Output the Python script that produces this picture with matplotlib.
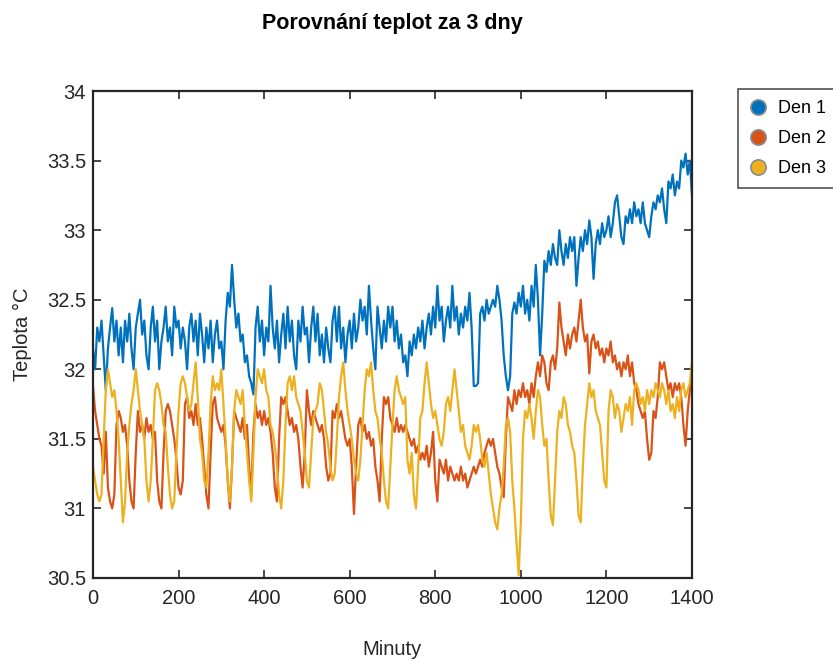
# Porovnani teplot za 3 dny (krok 5 minut)

import numpy as np
import matplotlib.pyplot as plt
from matplotlib.ticker import FuncFormatter
from matplotlib.lines import Line2D

plt.rcParams["font.family"] = ["Liberation Sans", "DejaVu Sans"]

minutes = np.arange(0, 1401, 5)

den1 = [
    32.15, 32.0, 32.3, 32.2, 32.35, 32.1, 31.85, 32.15, 32.3, 32.44, 32.2, 32.35, 32.1, 32.3, 32.05, 32.35, 32.2, 32.4, 32.15, 32.0,
    32.3, 32.4, 32.5, 32.25, 32.35, 32.1, 32.0, 32.3, 32.45, 32.2, 32.35, 32.0, 32.2, 32.3, 32.45, 32.2, 32.3, 32.1, 32.45, 32.3,
    32.35, 32.15, 32.3, 32.2, 32.0, 32.3, 32.4, 32.2, 32.35, 32.1, 32.4, 32.25, 32.05, 32.3, 32.15, 32.35, 32.05, 32.25, 32.35, 32.15,
    32.2, 32.0, 32.35, 32.55, 32.45, 32.75, 32.5, 32.3, 32.4, 32.2, 32.25, 32.05, 32.1, 31.95, 31.9, 31.82, 32.3, 32.45, 32.2, 32.35,
    32.1, 32.3, 32.2, 32.6, 32.3, 32.15, 32.35, 32.05, 32.25, 32.4, 32.15, 32.45, 32.2, 32.35, 32.1, 32.0, 32.35, 32.2, 32.45, 32.25,
    32.3, 32.05, 32.3, 32.45, 32.2, 32.4, 32.1, 32.25, 32.05, 32.3, 32.15, 32.05, 32.35, 32.45, 32.2, 32.45, 32.15, 32.3, 32.05, 32.25,
    32.35, 32.15, 32.4, 32.2, 32.3, 32.5, 32.35, 32.45, 32.25, 32.6, 32.35, 32.15, 32.0, 32.45, 32.3, 32.15, 32.35, 32.2, 32.45, 32.3,
    32.45, 32.2, 32.35, 32.15, 32.25, 32.05, 32.1, 31.95, 32.2, 32.1, 32.25, 32.15, 32.3, 32.2, 32.35, 32.15, 32.3, 32.4, 32.25, 32.45,
    32.3, 32.6, 32.35, 32.45, 32.2, 32.35, 32.45, 32.3, 32.6, 32.35, 32.45, 32.25, 32.4, 32.3, 32.45, 32.35, 32.55, 32.3, 31.88, 31.88,
    31.9, 32.4, 32.45, 32.35, 32.5, 32.4, 32.45, 32.5, 32.45, 32.6, 32.5, 32.35, 32.1, 31.95, 31.85, 31.95, 32.4, 32.48, 32.4, 32.55,
    32.45, 32.6, 32.4, 32.5, 32.35, 32.6, 32.45, 32.75, 32.5, 32.1, 32.4, 32.78, 32.7, 32.85, 32.75, 32.9, 32.8, 32.75, 33.0, 32.85,
    32.75, 32.9, 32.8, 32.95, 32.85, 32.95, 32.6, 32.8, 32.95, 32.85, 33.0, 32.9, 33.07, 32.95, 32.65, 32.9, 33.0, 32.9, 33.05, 32.95,
    33.0, 33.1, 32.95, 33.05, 33.2, 33.25, 33.1, 32.95, 32.9, 33.1, 33.05, 33.15, 33.05, 33.2, 33.1, 33.15, 33.05, 33.2, 33.05, 33.0,
    32.95, 33.1, 33.2, 33.15, 33.25, 33.2, 33.3, 33.15, 33.05, 33.35, 33.3, 33.4, 33.25, 33.35, 33.3, 33.5, 33.45, 33.55, 33.4, 33.5,
    33.25,
]

den2 = [
    31.88, 31.7, 31.6, 31.5, 31.45, 31.25, 31.55, 31.15, 31.05, 31.0, 31.1, 31.6, 31.7, 31.65, 31.55, 31.6, 31.45, 31.2, 31.05, 31.0,
    31.4, 31.7, 31.55, 31.6, 31.5, 31.65, 31.55, 31.6, 31.5, 31.55, 31.2, 31.05, 31.0, 31.4, 31.7, 31.75, 31.7, 31.6, 31.5, 31.35,
    31.15, 31.1, 31.2, 31.75, 31.8, 31.65, 31.7, 31.6, 31.75, 31.6, 31.65, 31.5, 31.3, 31.1, 31.0, 31.4, 31.75, 31.8, 31.65, 31.6,
    31.55, 31.6, 31.45, 31.2, 31.0, 31.3, 31.7, 31.65, 31.6, 31.55, 31.65, 31.5, 31.6, 31.3, 31.1, 31.55, 31.75, 31.65, 31.7, 31.6,
    31.7, 31.6, 31.65, 31.55, 31.4, 31.15, 31.05, 31.5, 31.8, 31.75, 31.8, 31.7, 31.6, 31.65, 31.55, 31.6, 31.5, 31.3, 31.15, 31.4,
    31.85, 31.7, 31.6, 31.7, 31.65, 31.6, 31.55, 31.6, 31.5, 31.3, 31.2, 31.25, 31.7, 31.65, 31.75, 31.65, 31.7, 31.6, 31.5, 31.45,
    31.5, 31.3, 30.96, 31.3, 31.6, 31.65, 31.55, 31.6, 31.5, 31.55, 31.45, 31.5, 31.3, 31.2, 31.05, 31.5, 31.8, 31.75, 31.8, 31.65,
    31.6, 31.55, 31.65, 31.55, 31.6, 31.55, 31.6, 31.55, 31.5, 31.45, 31.5, 31.4, 31.45, 31.35, 31.4, 31.35, 31.45, 31.3, 31.4, 31.55,
    31.2, 31.05, 31.35, 31.3, 31.25, 31.35, 31.2, 31.3, 31.25, 31.2, 31.25, 31.2, 31.3, 31.2, 31.25, 31.15, 31.2, 31.25, 31.3, 31.25,
    31.3, 31.35, 31.3, 31.4, 31.45, 31.5, 31.45, 31.5, 31.4, 31.3, 31.25, 31.15, 31.08, 31.5, 31.8, 31.75, 31.7, 31.85, 31.75, 31.85,
    31.8, 31.9, 31.8, 31.85, 31.75, 31.9, 31.8, 31.95, 32.05, 31.95, 32.1, 32.05, 31.9, 31.85, 32.05, 32.1, 32.0, 32.15, 32.48, 32.3,
    32.2, 32.1, 32.25, 32.15, 32.25, 32.3, 32.2, 32.35, 32.5, 32.3, 32.2, 32.25, 31.97, 32.2, 32.25, 32.15, 32.2, 32.1, 32.15, 32.05,
    32.15, 32.1, 32.2, 32.05, 32.1, 32.0, 32.05, 31.95, 32.05, 32.0, 32.1, 31.95, 32.05, 31.9, 31.85, 31.75, 31.7, 31.65, 31.7, 31.5,
    31.35, 31.4, 31.7, 31.65, 31.8, 32.05, 32.0, 32.05, 31.95, 31.85, 31.9, 31.8, 31.9, 31.85, 31.9, 31.8, 31.6, 31.45, 31.7, 31.85,
    32.0,
]

den3 = [
    31.3, 31.2, 31.1, 31.05, 31.1, 31.5, 31.85, 32.0, 31.9, 31.8, 31.85, 31.7, 31.5, 31.2, 30.9, 31.05, 31.4, 31.6, 31.75, 31.85,
    32.0, 31.85, 31.7, 31.6, 31.5, 31.2, 31.05, 31.2, 31.5, 31.85, 31.9, 31.85, 31.75, 31.6, 31.55, 31.3, 31.1, 31.0, 31.05, 31.4,
    31.7, 31.9, 31.95, 31.9, 31.8, 31.7, 31.75, 31.9, 32.05, 31.8, 31.5, 31.4, 31.2, 31.15, 31.4, 31.75, 31.95, 31.85, 31.9, 31.85,
    32.0, 31.75, 31.5, 31.2, 31.05, 31.3, 31.7, 31.85, 31.8, 31.75, 31.85, 31.6, 31.4, 31.2, 31.05, 31.4, 31.8, 32.0, 31.95, 31.9,
    32.0, 31.85, 31.8, 31.6, 31.55, 31.45, 31.3, 31.1, 31.0, 31.2, 31.6, 31.9, 31.95, 31.85, 31.95, 31.8, 31.75, 31.7, 31.55, 31.4,
    31.2, 31.15, 31.4, 31.65, 31.7, 31.75, 31.9, 31.85, 31.7, 31.55, 31.45, 31.3, 31.2, 31.25, 31.5, 31.8, 31.95, 32.05, 31.85, 31.7,
    31.6, 31.5, 31.35, 31.25, 31.2, 31.35, 31.6, 31.85, 32.0, 31.95, 32.05, 31.85, 31.7, 31.65, 31.5, 31.4, 31.2, 31.05, 31.0, 31.3,
    31.6, 31.85, 31.95, 31.85, 31.8, 31.75, 31.8, 31.35, 31.25, 31.4, 31.1, 31.0, 31.3, 31.65, 31.7, 31.9, 32.05, 31.9, 31.75, 31.65,
    31.7, 31.6, 31.5, 31.45, 31.55, 31.75, 31.8, 31.7, 31.85, 32.0, 31.85, 31.7, 31.55, 31.6, 31.45, 31.4, 31.35, 31.45, 31.6, 31.55,
    31.6, 31.5, 31.35, 31.3, 31.4, 31.25, 31.1, 31.0, 30.9, 30.85, 31.0, 31.1, 31.3, 31.6, 31.65, 31.55, 31.2, 31.0, 30.75, 30.52,
    30.9, 31.5, 31.7, 31.65, 31.75, 31.65, 31.5, 31.7, 31.85, 31.8, 31.6, 31.45, 31.5, 31.2, 30.95, 30.88, 31.2, 31.55, 31.7, 31.65,
    31.8, 31.75, 31.6, 31.55, 31.45, 31.4, 31.2, 30.95, 30.9, 31.3, 31.6, 31.75, 31.9, 31.8, 31.85, 31.7, 31.65, 31.6, 31.4, 31.2,
    31.15, 31.7, 31.85, 31.8, 31.65, 31.75, 31.7, 31.55, 31.65, 31.75, 31.7, 31.8, 31.6, 31.85, 31.9, 31.85, 31.75, 31.8, 31.7, 31.85,
    31.75, 31.85, 31.8, 31.9, 31.85, 31.8, 31.9, 31.85, 31.75, 31.85, 31.7, 31.75, 31.65, 31.8, 31.7, 31.85, 31.9, 31.8, 31.85, 31.9,
    32.05,
]

series_names = ["Den 1", "Den 2", "Den 3"]
colors = ["#0072BD", "#D95319", "#EDB120"]

fig = plt.figure(figsize=(8.33, 6.62), dpi=100)
ax = fig.add_axes([0.1116, 0.1269, 0.7191, 0.7356])

for vals, name, col in zip([den1, den2, den3], series_names, colors):
    ax.plot(minutes, vals, color=col, linewidth=1.6, label=name)

ax.set_xlim(0, 1400)
ax.set_ylim(30.5, 34)
ax.set_xticks(np.arange(0, 1401, 200))
ax.set_yticks(np.arange(30.5, 34.01, 0.5))
ax.yaxis.set_major_formatter(FuncFormatter(lambda v, p: f"{v:g}"))
ax.tick_params(direction="in", top=True, right=True, length=6, width=1.2,
               labelsize=14.5, colors="#262626", labelcolor="#262626")
ax.tick_params(axis="x", pad=8)
ax.tick_params(axis="y", pad=5)
for sp in ax.spines.values():
    sp.set_linewidth(1.6)
    sp.set_color("#262626")

ax.set_xlabel("Minuty", fontsize=14.5, color="#262626", va="center")
ax.xaxis.set_label_coords(0.5, -(650 - 578) / 487)
ax.set_ylabel("Teplota °C", fontsize=14.5, color="#262626", va="center")
ax.yaxis.set_label_coords(-(93 - 23) / 599, 0.5)

fig.text(392.5 / 833, 1 - 24 / 662, "Porovnání teplot za 3 dny", ha="center", va="center",
         fontsize=15.5, fontweight="bold")

handles = [Line2D([], [], linestyle="none", marker="o", markersize=11,
                  markerfacecolor=c, markeredgecolor="#8c8c8c", markeredgewidth=1.2)
           for c in colors]
leg = fig.legend(handles, series_names, loc="upper left",
                 bbox_to_anchor=(738 / 833, 1 - 89 / 662), fontsize=13,
                 frameon=True, fancybox=False, handlelength=1.0,
                 handletextpad=0.6, borderpad=0.6, labelspacing=0.72,
                 borderaxespad=0)
leg.get_frame().set_edgecolor("#262626")
leg.get_frame().set_linewidth(1.2)

fig.savefig("out.png", dpi=100)
